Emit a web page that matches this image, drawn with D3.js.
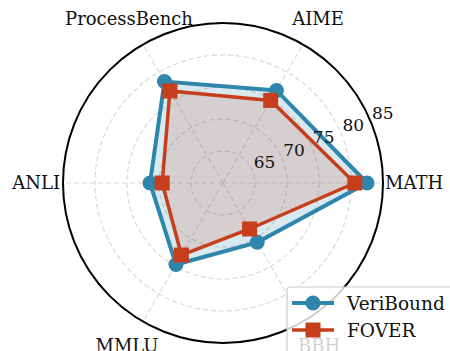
<!DOCTYPE html>
<html>
<head>
<meta charset="utf-8">
<script src="https://d3js.org/d3.v7.min.js"></script>
<style>
  body { margin: 0; background: #fff; }
  text { font-family: "DejaVu Serif", serif; fill: #111; }
</style>
</head>
<body>
<div id="chart"></div>
<script>
// axes, going counter-clockwise from the right
var categorias = ["MATH", "AIME", "ProcessBench", "ANLI", "MMLU", "BBH"];
var veribound = [82.5, 76.7, 78.3, 71.4, 74.7, 70.7];
var fover = [80.6, 74.9, 76.6, 69.5, 73.0, 68.3];
var ticks = [65, 70, 75, 80, 85];

var largura = 450, altura = 351;
var cx = 223, cy = 183, raio = 160;

var svg = d3.select("#chart").append("svg")
  .attr("width", largura).attr("height", altura);

var r = d3.scaleLinear().domain([60, 85]).range([0, raio]);
var ang = d3.scaleLinear().domain([0, categorias.length]).range([0, 2 * Math.PI]);

function ponto(i, v) {
  var a = ang(i);
  return [cx + r(v) * Math.cos(a), cy - r(v) * Math.sin(a)];
}

var g = svg.append("g");

// grade
g.selectAll("circle.grade")
  .data(ticks.slice(0, -1))
  .enter().append("circle")
  .attr("cx", cx).attr("cy", cy)
  .attr("r", d => r(d))
  .attr("fill", "none")
  .attr("stroke", "#d9d9d9")
  .attr("stroke-width", 1.2)
  .attr("stroke-dasharray", "5,3");

g.selectAll("line.raio")
  .data(categorias)
  .enter().append("line")
  .attr("x1", cx).attr("y1", cy)
  .attr("x2", (d, i) => ponto(i, 85)[0])
  .attr("y2", (d, i) => ponto(i, 85)[1])
  .attr("stroke", "#d9d9d9")
  .attr("stroke-width", 1.2)
  .attr("stroke-dasharray", "5,3");

var linha = d3.line().curve(d3.curveLinearClosed);

function serie(valores, cor, fundo, alfa, larg) {
  var pts = valores.map((v, i) => ponto(i, v));
  g.append("path")
    .attr("d", linha(pts))
    .attr("fill", fundo).attr("fill-opacity", alfa)
    .attr("stroke", "none");
  g.append("path")
    .attr("d", linha(pts))
    .attr("fill", "none")
    .attr("stroke", cor).attr("stroke-width", larg)
    .attr("stroke-linejoin", "miter");
  return pts;
}

var ptsV = serie(veribound, "#2e86ab", "#2e86ab", 0.18, 4);
g.selectAll("circle.v").data(ptsV).enter().append("circle")
  .attr("cx", d => d[0]).attr("cy", d => d[1]).attr("r", 7.5)
  .attr("fill", "#2e86ab");

var ptsF = serie(fover, "#c73e1d", "#c73e1d", 0.15, 3.5);
g.selectAll("rect.f").data(ptsF).enter().append("rect")
  .attr("x", d => d[0] - 7.5).attr("y", d => d[1] - 7.5)
  .attr("width", 15).attr("height", 15)
  .attr("fill", "#c73e1d");

// contorno externo
g.append("circle")
  .attr("cx", cx).attr("cy", cy).attr("r", raio)
  .attr("fill", "none").attr("stroke", "#000").attr("stroke-width", 2);

// rótulos do raio
var a22 = Math.PI / 8;
g.selectAll("text.tick")
  .data(ticks)
  .enter().append("text")
  .attr("x", d => cx + r(d) * Math.cos(a22) + 12)
  .attr("y", d => cy - r(d) * Math.sin(a22) - 9)
  .attr("text-anchor", "middle")
  .attr("dominant-baseline", "central")
  .attr("font-size", 17)
  .text(d => d);

// rótulos das categorias
var posRotulo = [
  { x: 385, y: 182, anchor: "start" },
  { x: 318, y: 18, anchor: "middle" },
  { x: 129, y: 18, anchor: "middle" },
  { x: 60, y: 182, anchor: "end" },
  { x: 127, y: 345, anchor: "middle" },
  { x: 319, y: 345, anchor: "middle" }
];
g.selectAll("text.cat")
  .data(categorias)
  .enter().append("text")
  .attr("x", (d, i) => posRotulo[i].x)
  .attr("y", (d, i) => posRotulo[i].y)
  .attr("text-anchor", (d, i) => posRotulo[i].anchor)
  .attr("dominant-baseline", "central")
  .attr("font-size", 18)
  .text(d => d);

// legenda
var leg = svg.append("g").attr("transform", "translate(287,287)");
leg.append("rect")
  .attr("x", 0).attr("y", 0).attr("width", 175).attr("height", 80)
  .attr("rx", 3)
  .attr("fill", "#fff").attr("fill-opacity", 0.8)
  .attr("stroke", "#cccccc").attr("stroke-width", 1.2);

var itens = [
  { nome: "VeriBound", cor: "#2e86ab", marca: "circle" },
  { nome: "FOVER", cor: "#c73e1d", marca: "square" }
];
itens.forEach(function (it, i) {
  var y = 16 + i * 27;
  leg.append("line")
    .attr("x1", 5).attr("x2", 47).attr("y1", y).attr("y2", y)
    .attr("stroke", it.cor).attr("stroke-width", it.marca === "circle" ? 4 : 3.5);
  if (it.marca === "circle") {
    leg.append("circle").attr("cx", 26).attr("cy", y).attr("r", 7.5).attr("fill", it.cor);
  } else {
    leg.append("rect").attr("x", 18.5).attr("y", y - 7.5).attr("width", 15).attr("height", 15).attr("fill", it.cor);
  }
  leg.append("text")
    .attr("x", 60).attr("y", y)
    .attr("dominant-baseline", "central")
    .attr("font-size", 18.5)
    .text(it.nome);
});
</script>
</body>
</html>
